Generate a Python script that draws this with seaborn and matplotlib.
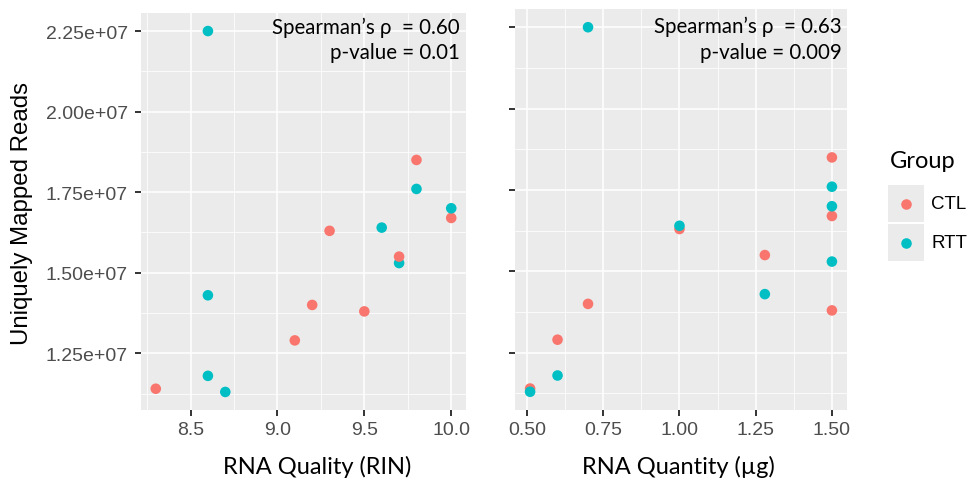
import numpy as np
import pandas as pd
import matplotlib
matplotlib.use("Agg")
import matplotlib.pyplot as plt
import seaborn as sns
from matplotlib.lines import Line2D
from matplotlib.patches import Rectangle
from matplotlib.ticker import FixedLocator

# ---- data (one entry per sample, in drawing order) ----
group = ["CTL", "RTT", "CTL", "RTT", "RTT", "CTL", "CTL", "CTL",
         "CTL", "CTL", "CTL", "RTT", "RTT", "RTT", "RTT", "RTT"]
rin = [8.3, 8.7, 9.3, 9.6, 9.7, 9.7, 9.8, 10.0,
       9.2, 9.5, 9.1, 8.6, 9.8, 10.0, 8.6, 8.6]
quantity = [0.51, 0.51, 1.00, 1.00, 1.50, 1.28, 1.50, 1.50,
            0.70, 1.50, 0.60, 0.70, 1.50, 1.50, 1.28, 0.60]
reads = [1.14e7, 1.13e7, 1.63e7, 1.64e7, 1.53e7, 1.55e7, 1.85e7, 1.67e7,
         1.40e7, 1.38e7, 1.29e7, 2.25e7, 1.76e7, 1.70e7, 1.43e7, 1.18e7]

group_order = ["CTL", "RTT"]
group_colors = ["#F8766D", "#00BFC4"]

y_ticks = [1.25e7, 1.50e7, 1.75e7, 2.00e7, 2.25e7]
y_tick_labels = ["1.25e+07", "1.50e+07", "1.75e+07", "2.00e+07", "2.25e+07"]
rin_ticks = [8.5, 9.0, 9.5, 10.0]
rin_tick_labels = ["8.5", "9.0", "9.5", "10.0"]
qty_ticks = [0.50, 0.75, 1.00, 1.25, 1.50]
qty_tick_labels = ["0.50", "0.75", "1.00", "1.25", "1.50"]

rin_annot = ["Spearman\u2019s \u03c1  = 0.60", "p-value = 0.01"]
qty_annot = ["Spearman\u2019s \u03c1  = 0.63", "p-value = 0.009"]

df = pd.DataFrame({"Group": group, "RIN": rin, "Quantity": quantity, "Reads": reads})

sns.set_theme(style="darkgrid")
plt.rcParams["font.family"] = ["Liberation Sans", "DejaVu Sans"]
CAL = ["Lato", "DejaVu Sans"]

W, H = 971, 481
fig = plt.figure(figsize=(W / 100, H / 100), dpi=100)
fig.patch.set_facecolor("white")


def fx(px):
    return px / W


def fy(py):
    return 1 - py / H


ax1 = fig.add_axes([fx(141), fy(411), (466 - 141) / W, (411 - 14) / H])
ax2 = fig.add_axes([fx(515), fy(411), (847 - 515) / W, (411 - 10) / H])


def expand(vals, f=0.05):
    lo, hi = min(vals), max(vals)
    r = hi - lo
    return lo - f * r, hi + f * r


for ax, xcol, xt, xtl, xlab, annot, ax_x, ay, lab_xy in [
    (ax1, "RIN", rin_ticks, rin_tick_labels, "RNA Quality (RIN)", rin_annot, 0.9815,
     (0.9655, 0.901), (0.5415, -0.113)),
    (ax2, "Quantity", qty_ticks, qty_tick_labels, "RNA Quantity (\u00b5g)", qty_annot, 0.985,
     (0.958, 0.892), (0.491, -0.112)),
]:
    ax.set_facecolor("#EBEBEB")
    sns.scatterplot(data=df, x=xcol, y="Reads", hue="Group", hue_order=group_order,
                    palette=group_colors, s=58, linewidth=0, legend=False, ax=ax, zorder=3)
    ax.set_xlim(*expand(df[xcol]))
    ax.set_ylim(*expand(df["Reads"]))
    ax.xaxis.set_major_locator(FixedLocator(xt))
    ax.yaxis.set_major_locator(FixedLocator(y_ticks))
    step = xt[1] - xt[0]
    xminor = [xt[0] - step / 2] + [t + step / 2 for t in xt]
    ystep = y_ticks[1] - y_ticks[0]
    yminor = [y_ticks[0] - ystep / 2] + [t + ystep / 2 for t in y_ticks]
    ax.xaxis.set_minor_locator(FixedLocator(xminor))
    ax.yaxis.set_minor_locator(FixedLocator(yminor))
    ax.grid(which="major", color="white", linewidth=1.1)
    ax.grid(which="minor", color="white", linewidth=0.55)
    ax.set_axisbelow(True)
    for s in ax.spines.values():
        s.set_visible(False)
    ax.tick_params(which="major", width=1.4, color="#333333",
                   labelsize=14, labelcolor="#4D4D4D", left=True, bottom=True)
    ax.tick_params(axis="x", length=4.3, pad=3.3)
    ax.tick_params(axis="y", length=4.5, pad=4.8)
    ax.tick_params(which="minor", length=0)
    ax.set_xticklabels(xtl)
    ax.set_xlabel(xlab, fontsize=17, family=CAL, color="black")
    ax.xaxis.set_label_coords(*lab_xy)
    ax.text(ax_x, ay[0], annot[0], transform=ax.transAxes, ha="right", va="center",
            fontsize=14.8, family=CAL, color="black")
    ax.text(ax_x, ay[1], annot[1], transform=ax.transAxes, ha="right", va="center",
            fontsize=14.8, family=CAL, color="black")

ax1.set_yticklabels(y_tick_labels)
ax1.set_ylabel("Uniquely Mapped Reads", fontsize=17.3, color="black")
ax1.yaxis.set_label_coords(-0.332, 0.497)
ax2.set_yticklabels([])
ax2.set_ylabel("")

# ---- legend ----
fig.text(fx(890), fy(162), "Group", ha="left", va="center", fontsize=17, family=CAL, color="black")
key_tops = [186, 225]
for i, (g, c) in enumerate(zip(group_order, group_colors)):
    top = key_tops[i]
    fig.patches.append(Rectangle((fx(888), fy(top + 37)), 36 / W, 37 / H,
                                 transform=fig.transFigure, facecolor="#EBEBEB",
                                 edgecolor="none"))
    cy = top + 18.5
    fig.lines.append(Line2D([fx(906)], [fy(cy)], transform=fig.transFigure, marker="o",
                            markersize=7.6, markerfacecolor=c, markeredgewidth=0,
                            linestyle="none"))
    fig.text(fx(931), fy(cy), g, ha="left", va="center", fontsize=13.5, color="black")

fig.savefig("out.png", dpi=100)
